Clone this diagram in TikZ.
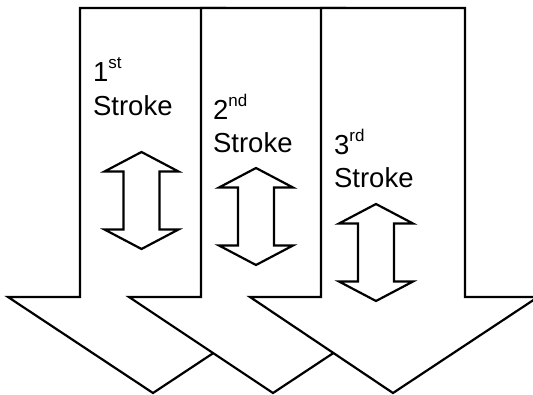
\documentclass[tikz,border=0pt]{standalone}
\usepackage{fontspec}
\setmainfont{Liberation Sans}
\newcommand\supr[1]{\raisebox{13pt}{\fontsize{17}{17}\selectfont #1}}
\begin{document}
\begin{tikzpicture}[x=1pt,y=-1pt,line width=2.2pt,line join=miter,
  bigarrow/.style={draw=black,fill=white},
  smallarrow/.style={draw=black,fill=white},
  lbl/.style={anchor=base west,inner sep=0pt,font=\fontsize{27.5}{34}\selectfont},
  dblarrow/.pic={\draw[smallarrow] (0,0) -- (37,19.5) -- (18,19.5) -- (18,77.5) -- (37,77.5) -- (0,97) -- (-37,77.5) -- (-18,77.5) -- (-18,19.5) -- (-37,19.5) -- cycle;}]
\useasboundingbox (0,0) rectangle (533,395);
% big arrows, later ones on top
\draw[bigarrow] (80,8) -- (225,8) -- (225,297) -- (298,297) -- (153,393) -- (8,297) -- (80,297) -- cycle;
\draw[bigarrow] (201,8) -- (345,8) -- (345,297) -- (418,297) -- (273,393) -- (129,297) -- (201,297) -- cycle;
\draw[bigarrow] (321,8) -- (465,8) -- (465,297) -- (538,297) -- (393,393) -- (250,297) -- (321,297) -- cycle;
% small double arrows
\pic at (141.5,152) {dblarrow};
\pic at (256,168) {dblarrow};
\pic at (376,204) {dblarrow};
% labels
\node[lbl] (n1) at (92,81.7) {1\supr{st}};
\node[lbl] (s1) at (92,115.7) {Stroke};
\node[lbl] (n2) at (212,119.3) {2\supr{nd}};
\node[lbl] (s2) at (212,153) {Stroke};
\node[lbl] (n3) at (333,154.3) {3\supr{rd}};
\node[lbl] (s3) at (333,188) {Stroke};
\end{tikzpicture}
\end{document}
